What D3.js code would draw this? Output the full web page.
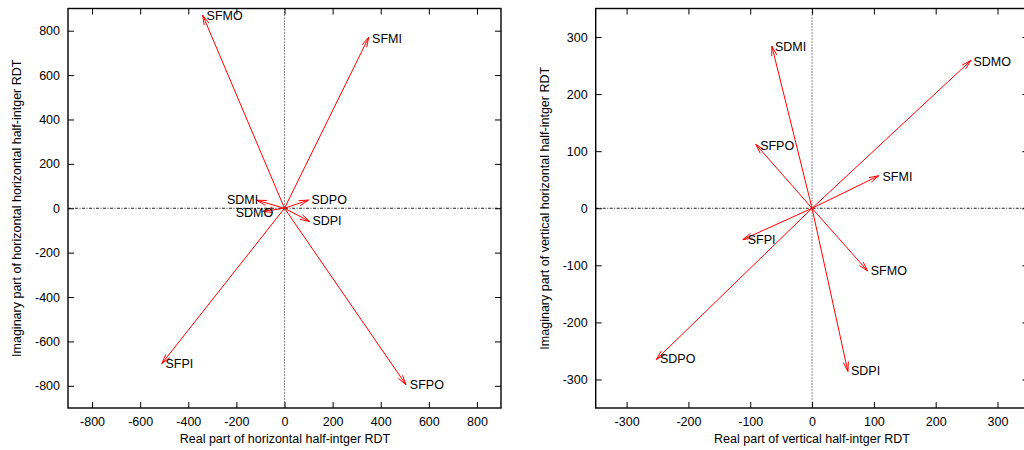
<!DOCTYPE html>
<html><head><meta charset="utf-8">
<script src="https://cdn.jsdelivr.net/npm/d3@7"></script>
<style>
body{margin:0;background:#fff;}
text{font-family:"Liberation Sans",Arial,sans-serif;font-size:12.5px;fill:#000;}
</style></head>
<body><svg id="c" width="1024" height="450"></svg>
<script>
// ---- Left panel: horizontal half-integer RDT ----
const hNames = ["SFMO","SFMI","SDMI","SDMO","SDPO","SDPI","SFPI","SFPO"];
const hRe    = [-340, 350, -115, -90, 100, 105, -510, 505];
const hIm    = [870, 770, 36, -14, 37, -60, -700, -795];
const hLabX  = [-324, 364, -239, -203, 112, 116, -495, 521];
const hLabY  = [866, 763, 38, -18, 38, -57, -700, -795];
const hTicks = [-800,-600,-400,-200,0,200,400,600,800];

// ---- Right panel: vertical half-integer RDT ----
const vNames = ["SDMI","SDMO","SFPO","SFMI","SFPI","SFMO","SDPI","SDPO"];
const vRe    = [-65, 257, -91, 108, -112, 90, 58, -252];
const vIm    = [284, 259, 112, 57, -55, -110, -286, -265];
const vLabX  = [-60, 261, -84, 114, -104, 95, 63, -246];
const vLabY  = [284, 257, 110, 56, -55, -110, -285, -263];
const vTicks = [-300,-200,-100,0,100,200,300];

const svg = d3.select("#c");
const fmt = d => String(d);

function panel(cfg){
  const g = svg.append("g");
  const x = d3.scaleLinear().domain(cfg.dom).range([cfg.x0, cfg.x1]);
  const y = d3.scaleLinear().domain(cfg.dom).range([cfg.y1, cfg.y0]);
  // zero axes
  g.append("line").attr("x1",cfg.x0).attr("x2",cfg.x1).attr("y1",y(0)).attr("y2",y(0))
    .attr("stroke","#222").attr("stroke-width",1).attr("stroke-dasharray","3,1.5,1,1.5");
  g.append("line").attr("x1",x(0)).attr("x2",x(0)).attr("y1",cfg.y0).attr("y2",cfg.y1)
    .attr("stroke","#222").attr("stroke-width",1).attr("stroke-dasharray","1,2");
  // axes
  const ax = (a, tr) => { const s = g.append("g").attr("transform",tr).call(a);
    s.select(".domain").remove(); s.selectAll("line").attr("stroke","#000");
    s.selectAll("text").style("font-family","Liberation Sans, Arial, sans-serif").style("font-size","12.5px").attr("fill","#000");
    return s; };
  ax(d3.axisBottom(x).tickValues(cfg.ticks).tickSizeInner(-6).tickSizeOuter(0).tickPadding(9).tickFormat(fmt),
     `translate(0,${cfg.y1})`);
  ax(d3.axisTop(x).tickValues(cfg.ticks).tickSizeInner(-6).tickSizeOuter(0).tickFormat(""),
     `translate(0,${cfg.y0})`);
  ax(d3.axisLeft(y).tickValues(cfg.ticks).tickSizeInner(-6).tickSizeOuter(0).tickPadding(8).tickFormat(fmt),
     `translate(${cfg.x0},0)`);
  ax(d3.axisRight(y).tickValues(cfg.ticks).tickSizeInner(-6).tickSizeOuter(0).tickFormat(""),
     `translate(${cfg.x1},0)`);
  // frame
  g.append("rect").attr("x",cfg.x0).attr("y",cfg.y0).attr("width",cfg.x1-cfg.x0).attr("height",cfg.y1-cfg.y0)
    .attr("fill","none").attr("stroke","#000").attr("stroke-width",1.4);
  // arrows
  const L = 10, A = 15*Math.PI/180;
  cfg.names.forEach((n,i)=>{
    const x0 = x(0), y0 = y(0), xt = x(cfg.re[i]), yt = y(cfg.im[i]);
    const ang = Math.atan2(yt-y0, xt-x0);
    const h1 = [xt - L*Math.cos(ang-A), yt - L*Math.sin(ang-A)];
    const h2 = [xt - L*Math.cos(ang+A), yt - L*Math.sin(ang+A)];
    g.append("path").attr("d",`M${x0},${y0}L${xt},${yt}M${h1[0]},${h1[1]}L${xt},${yt}L${h2[0]},${h2[1]}`)
      .attr("fill","none").attr("stroke","#ff0000").attr("stroke-width",1);
    g.append("text").attr("x",x(cfg.lx[i])).attr("y",y(cfg.ly[i])).attr("dy","0.35em").text(n);
  });
  // axis titles
  g.append("text").attr("x",cfg.xc).attr("y",443).attr("text-anchor","middle").text(cfg.xt);
  g.append("text").attr("transform",`translate(${cfg.ylx},${(cfg.y0+cfg.y1)/2}) rotate(-90)`)
    .attr("text-anchor","middle").text(cfg.yt);
}

panel({dom:[-900,900], x0:68, x1:501, y0:8.5, y1:408, ticks:hTicks,
  names:hNames, re:hRe, im:hIm, lx:hLabX, ly:hLabY, xc:285,
  xt:"Real part of horizontal half-intger RDT", yt:"Imaginary part of horizontal horizontal half-intger RDT", ylx:21});
panel({dom:[-350,350], x0:595.7, x1:1028.4, y0:8.5, y1:408, ticks:vTicks,
  names:vNames, re:vRe, im:vIm, lx:vLabX, ly:vLabY, xc:812,
  xt:"Real part of vertical half-intger RDT", yt:"Imaginary part of vertical horizontal half-intger RDT", ylx:549});
</script></body></html>
